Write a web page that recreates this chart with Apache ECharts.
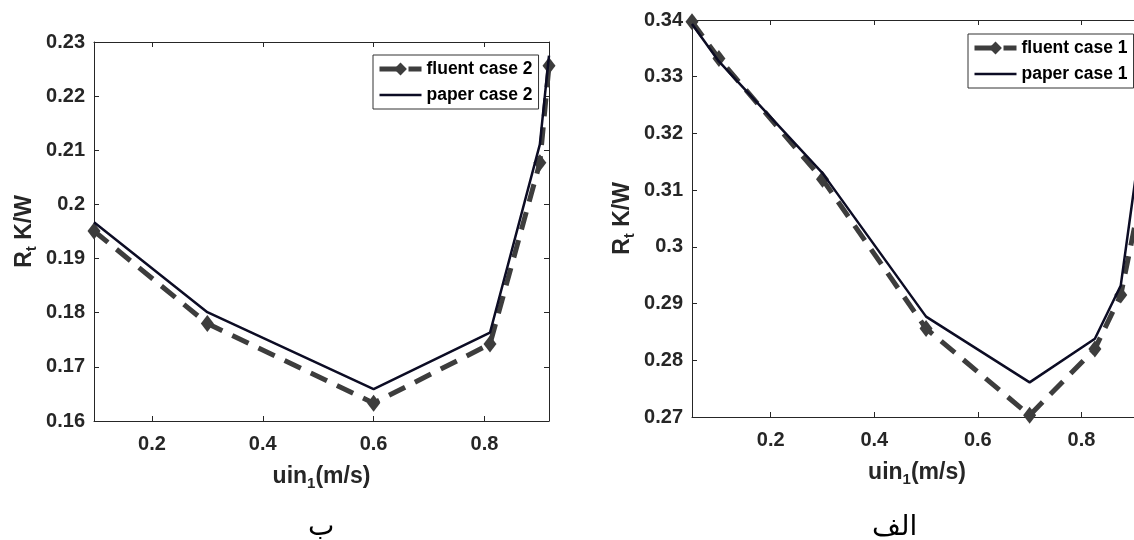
<!DOCTYPE html>
<html><head><meta charset="utf-8">
<script src="https://cdn.jsdelivr.net/npm/echarts@6/dist/echarts.min.js"></script>
<style>html,body{margin:0;padding:0;background:#fff}#c{width:1134px;height:540px}</style>
</head><body><div id="c"></div>
<script>
// ---- data ----
const xCase2 = [0.0955, 0.3, 0.6, 0.81, 0.9, 0.9165];
const fluentCase2 = [0.1951, 0.1780, 0.1633, 0.1742, 0.2077, 0.2256];
const paperCase2 = [0.1967, 0.1801, 0.1659, 0.1763, 0.2111, 0.2275];

const xCase1 = [0.048, 0.1, 0.3, 0.5, 0.7, 0.826, 0.876, 0.917];
const fluentCase1 = [0.3397, 0.3332, 0.3119, 0.2856, 0.2703, 0.2820, 0.2915, 0.3100];
const paperCase1 = [0.3393, 0.3327, 0.3130, 0.2877, 0.2761, 0.2838, 0.2932, 0.3205];

const xTickValues = [0.2, 0.4, 0.6, 0.8];
const seriesNames2 = ['fluent case 2', 'paper case 2'];
const seriesNames1 = ['fluent case 1', 'paper case 1'];
const panelLabels = ['ب', 'الف'];

// ---- styling ----
const font = '"Liberation Sans", Arial, Helvetica, sans-serif';
const axisCol = '#262626';
const fluentCol = '#3d3d3d';
const paperCol = '#0c0c24';
const fluentDash = [18, 11];

function pairs(xs, ys) { return xs.map((x, i) => [x, ys[i]]); }

const nameRich = {
  m: {fontSize: 23, fontWeight: 'bold', fontFamily: font, color: axisCol, lineHeight: 23},
  s: {fontSize: 15, fontWeight: 'bold', fontFamily: font, color: axisCol, lineHeight: 15, padding: [14, 0, 0, 0]}
};

function makeX(gi, min, max) {
  return [{
    type: 'value', gridIndex: gi, min: min, max: max, position: 'bottom',
    axisLine: {show: true, onZero: false, lineStyle: {color: axisCol, width: 1}},
    axisTick: {show: true, inside: true, length: 5, customValues: xTickValues, lineStyle: {color: axisCol}},
    axisLabel: {show: true, customValues: xTickValues, color: axisCol, fontSize: 20, fontWeight: 'bold', fontFamily: font, margin: 13},
    splitLine: {show: false},
    name: '{m|uin}{s|1}{m|(m/s)}', nameLocation: 'middle', nameGap: 44,
    nameTextStyle: {rich: nameRich}
  }, {
    type: 'value', gridIndex: gi, min: min, max: max, position: 'top',
    axisLine: {show: true, onZero: false, lineStyle: {color: axisCol, width: 1}},
    axisTick: {show: true, inside: true, length: 5, customValues: xTickValues, lineStyle: {color: axisCol}},
    axisLabel: {show: false}, splitLine: {show: false}
  }];
}

function makeY(gi, min, max, gap) {
  return [{
    type: 'value', gridIndex: gi, min: min, max: max, interval: 0.01, position: 'left',
    axisLine: {show: true, onZero: false, lineStyle: {color: axisCol, width: 1}},
    axisTick: {show: true, inside: true, length: 5, lineStyle: {color: axisCol}},
    axisLabel: {color: axisCol, fontSize: 20, fontWeight: 'bold', fontFamily: font, margin: 9},
    splitLine: {show: false},
    name: '{m|R}{s|t}{m| K/W}', nameLocation: 'middle', nameGap: gap,
    nameTextStyle: {rich: nameRich}
  }, {
    type: 'value', gridIndex: gi, min: min, max: max, interval: 0.01, position: 'right',
    axisLine: {show: true, onZero: false, lineStyle: {color: axisCol, width: 1}},
    axisTick: {show: true, inside: true, length: 5, lineStyle: {color: axisCol}},
    axisLabel: {show: false}, splitLine: {show: false}
  }];
}

function fluentSeries(name, xi, yi, data) {
  return {
    name: name, type: 'line', xAxisIndex: xi, yAxisIndex: yi, data: data,
    symbol: 'diamond', symbolSize: [13, 17], showSymbol: true,
    itemStyle: {color: fluentCol},
    lineStyle: {color: fluentCol, width: 5, type: fluentDash},
    emphasis: {disabled: true}, animation: false, z: 2
  };
}
function paperSeries(name, xi, yi, data) {
  return {
    name: name, type: 'line', xAxisIndex: xi, yAxisIndex: yi, data: data,
    symbol: 'none', showSymbol: false,
    itemStyle: {color: paperCol},
    lineStyle: {color: paperCol, width: 2.5},
    emphasis: {disabled: true}, animation: false, z: 3
  };
}

const legendBase = {
  orient: 'vertical', backgroundColor: '#fff', borderColor: '#333', borderWidth: 1,
  padding: [4, 6, 4, 4], itemGap: 6, itemWidth: 42, itemHeight: 16, selectedMode: false,
  textStyle: {fontSize: 17.5, fontWeight: 'bold', fontFamily: font, color: '#000', lineHeight: 20}
};
function legendData(names) {
  return [
    {name: names[0], lineStyle: {width: 5, type: fluentDash, color: fluentCol}},
    {name: names[1], icon: 'path://M0,0L42,0L42,2.5L0,2.5Z', itemStyle: {color: paperCol}}
  ];
}

const option = {
  backgroundColor: '#fff',
  animation: false,
  grid: [
    {left: 94, top: 42, width: 455, height: 379, outerBoundsMode: 'none', containLabel: false},
    {left: 692, top: 20, width: 450, height: 397, outerBoundsMode: 'none', containLabel: false}
  ],
  xAxis: makeX(0, 0.0955, 0.9165).concat(makeX(1, 0.048, 0.917)),
  yAxis: makeY(0, 0.16, 0.23, 58).concat(makeY(1, 0.27, 0.34, 58)),
  legend: [
    Object.assign({}, legendBase, {data: legendData(seriesNames2), left: 373, top: 55}),
    Object.assign({}, legendBase, {data: legendData(seriesNames1), left: 968, top: 34})
  ],
  series: [
    fluentSeries(seriesNames2[0], 0, 0, pairs(xCase2, fluentCase2)),
    paperSeries(seriesNames2[1], 0, 0, pairs(xCase2, paperCase2)),
    fluentSeries(seriesNames1[0], 2, 2, pairs(xCase1, fluentCase1)),
    paperSeries(seriesNames1[1], 2, 2, pairs(xCase1, paperCase1))
  ],
  graphic: [
    {type: 'text', left: 308, top: 514, style: {text: panelLabels[0], fontSize: 28, fontFamily: '"DejaVu Sans", serif', fill: '#000'}},
    {type: 'text', left: 872, top: 514, style: {text: panelLabels[1], fontSize: 28, fontFamily: '"DejaVu Sans", serif', fill: '#000'}}
  ]
};

const chart = echarts.init(document.getElementById('c'), null, {renderer: 'canvas'});
chart.setOption(option);
</script>
</body></html>
